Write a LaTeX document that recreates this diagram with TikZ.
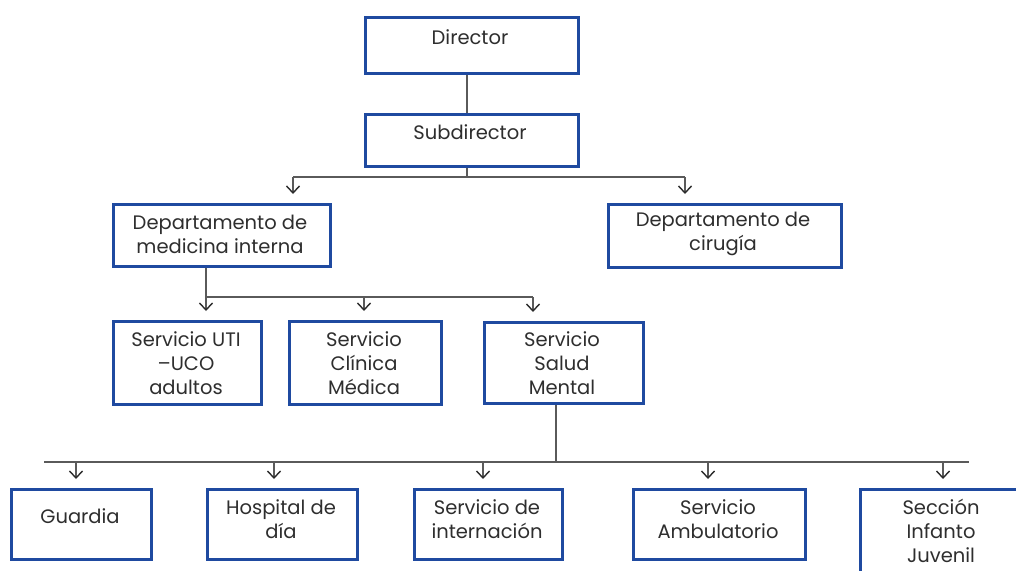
\documentclass[tikz,border=0pt]{standalone}
\usepackage{fontspec}
\setmainfont{Poppins}
\usetikzlibrary{arrows.meta}
\definecolor{boxblue}{HTML}{1F4AA0}
\definecolor{linegray}{HTML}{5A5A5A}
\definecolor{tipgray}{HTML}{2A2A2A}
\definecolor{txtgray}{HTML}{2E2E2E}
\tikzset{
  box/.style={draw=boxblue, line width=3pt, fill=white, anchor=north west, inner sep=0pt},
  lbl/.style={text=txtgray, align=center, font=\fontsize{19.5}{24}\selectfont, inner sep=0pt},
  conn/.style={draw=linegray, line width=1.6pt},
  arr/.style={draw=linegray, line width=1.4pt, -{Straight Barb[length=7pt,width=13pt,line width=1.4pt,color=tipgray]}, shorten >=9pt},
}
\begin{document}
\begin{tikzpicture}[x=1pt,y=-1pt]
\useasboundingbox (0,0) rectangle (1016,570);
\clip (0,0) rectangle (1016,570);
% boxes
\node[box, minimum width=213pt, minimum height=56pt] (dir) at (364,16) {};
\node[box, minimum width=213pt, minimum height=52pt] (sub) at (364,113) {};
\node[box, minimum width=217pt, minimum height=62pt] (dmed) at (112,203) {};
\node[box, minimum width=233pt, minimum height=63pt] (dcir) at (607,203) {};
\node[box, minimum width=148pt, minimum height=83pt] (uti) at (112,320) {};
\node[box, minimum width=152pt, minimum height=83pt] (cli) at (288,320) {};
\node[box, minimum width=159pt, minimum height=81pt] (sal) at (483,321) {};
\node[box, minimum width=140pt, minimum height=70pt] (gua) at (10,488) {};
\node[box, minimum width=150pt, minimum height=70pt] (hos) at (206,488) {};
\node[box, minimum width=148pt, minimum height=70pt] (int) at (413,488) {};
\node[box, minimum width=172pt, minimum height=70pt] (amb) at (632,488) {};
\node[box, minimum width=180pt, minimum height=110pt] (sec) at (859,488) {};
% labels
\node[lbl] (tdir) at (470,37) {Director};
\node[lbl] (tsub) at (470,132) {Subdirector};
\node[lbl] (tdmed) at (220,234) {Departamento de\\medicina interna};
\node[lbl] (tdcir) at (723,234) {Departamento de\\cirugía};
\node[lbl] (tuti) at (186,363) {Servicio UTI\\–UCO\\adultos};
\node[lbl] (tcli) at (364,363) {Servicio\\Clínica\\Médica};
\node[lbl] (tsal) at (562,363) {Servicio\\Salud\\Mental};
\node[lbl] (tgua) at (80,516) {Guardia};
\node[lbl] (thos) at (281,519) {Hospital de\\día};
\node[lbl] (tint) at (487,519) {Servicio de\\internación};
\node[lbl] (tamb) at (718,519) {Servicio\\Ambulatorio};
\node[lbl] (tsec) at (941,531) {Sección\\Infanto\\Juvenil};
% junction coordinates
\coordinate (j1) at (467,177);
\coordinate (b1l) at (293,177);
\coordinate (b1r) at (685,177);
\coordinate (j2) at (206,297);
\coordinate (b2m) at (364,297);
\coordinate (b2r) at (533,297);
\coordinate (j3) at (556,462);
\coordinate (b3a) at (44,462);
\coordinate (b3z) at (969,462);
\coordinate (b3g) at (76,462);
\coordinate (b3h) at (274,462);
\coordinate (b3i) at (483,462);
\coordinate (b3m) at (708,462);
\coordinate (b3s) at (943,462);
% connectors
\draw[conn] (dir.south -| j1) -- (sub.north -| j1);
\draw[conn] (sub.south -| j1) -- (j1);
\draw[conn] (b1l) -- (b1r);
\draw[arr] (b1l) -- (b1l |- dmed.north);
\draw[arr] (b1r) -- (b1r |- dcir.north);
\draw[conn] (dmed.south -| j2) -- (j2) -- (b2r);
\draw[arr] (j2) -- (j2 |- uti.north);
\draw[arr] (b2m) -- (b2m |- cli.north);
\draw[arr] (b2r) -- (b2r |- sal.north);
\draw[conn] (sal.south -| j3) -- (j3);
\draw[conn] (b3a) -- (b3z);
\draw[arr] (b3g) -- (b3g |- gua.north);
\draw[arr] (b3h) -- (b3h |- hos.north);
\draw[arr] (b3i) -- (b3i |- int.north);
\draw[arr] (b3m) -- (b3m |- amb.north);
\draw[arr] (b3s) -- (b3s |- sec.north);
\end{tikzpicture}
\end{document}
